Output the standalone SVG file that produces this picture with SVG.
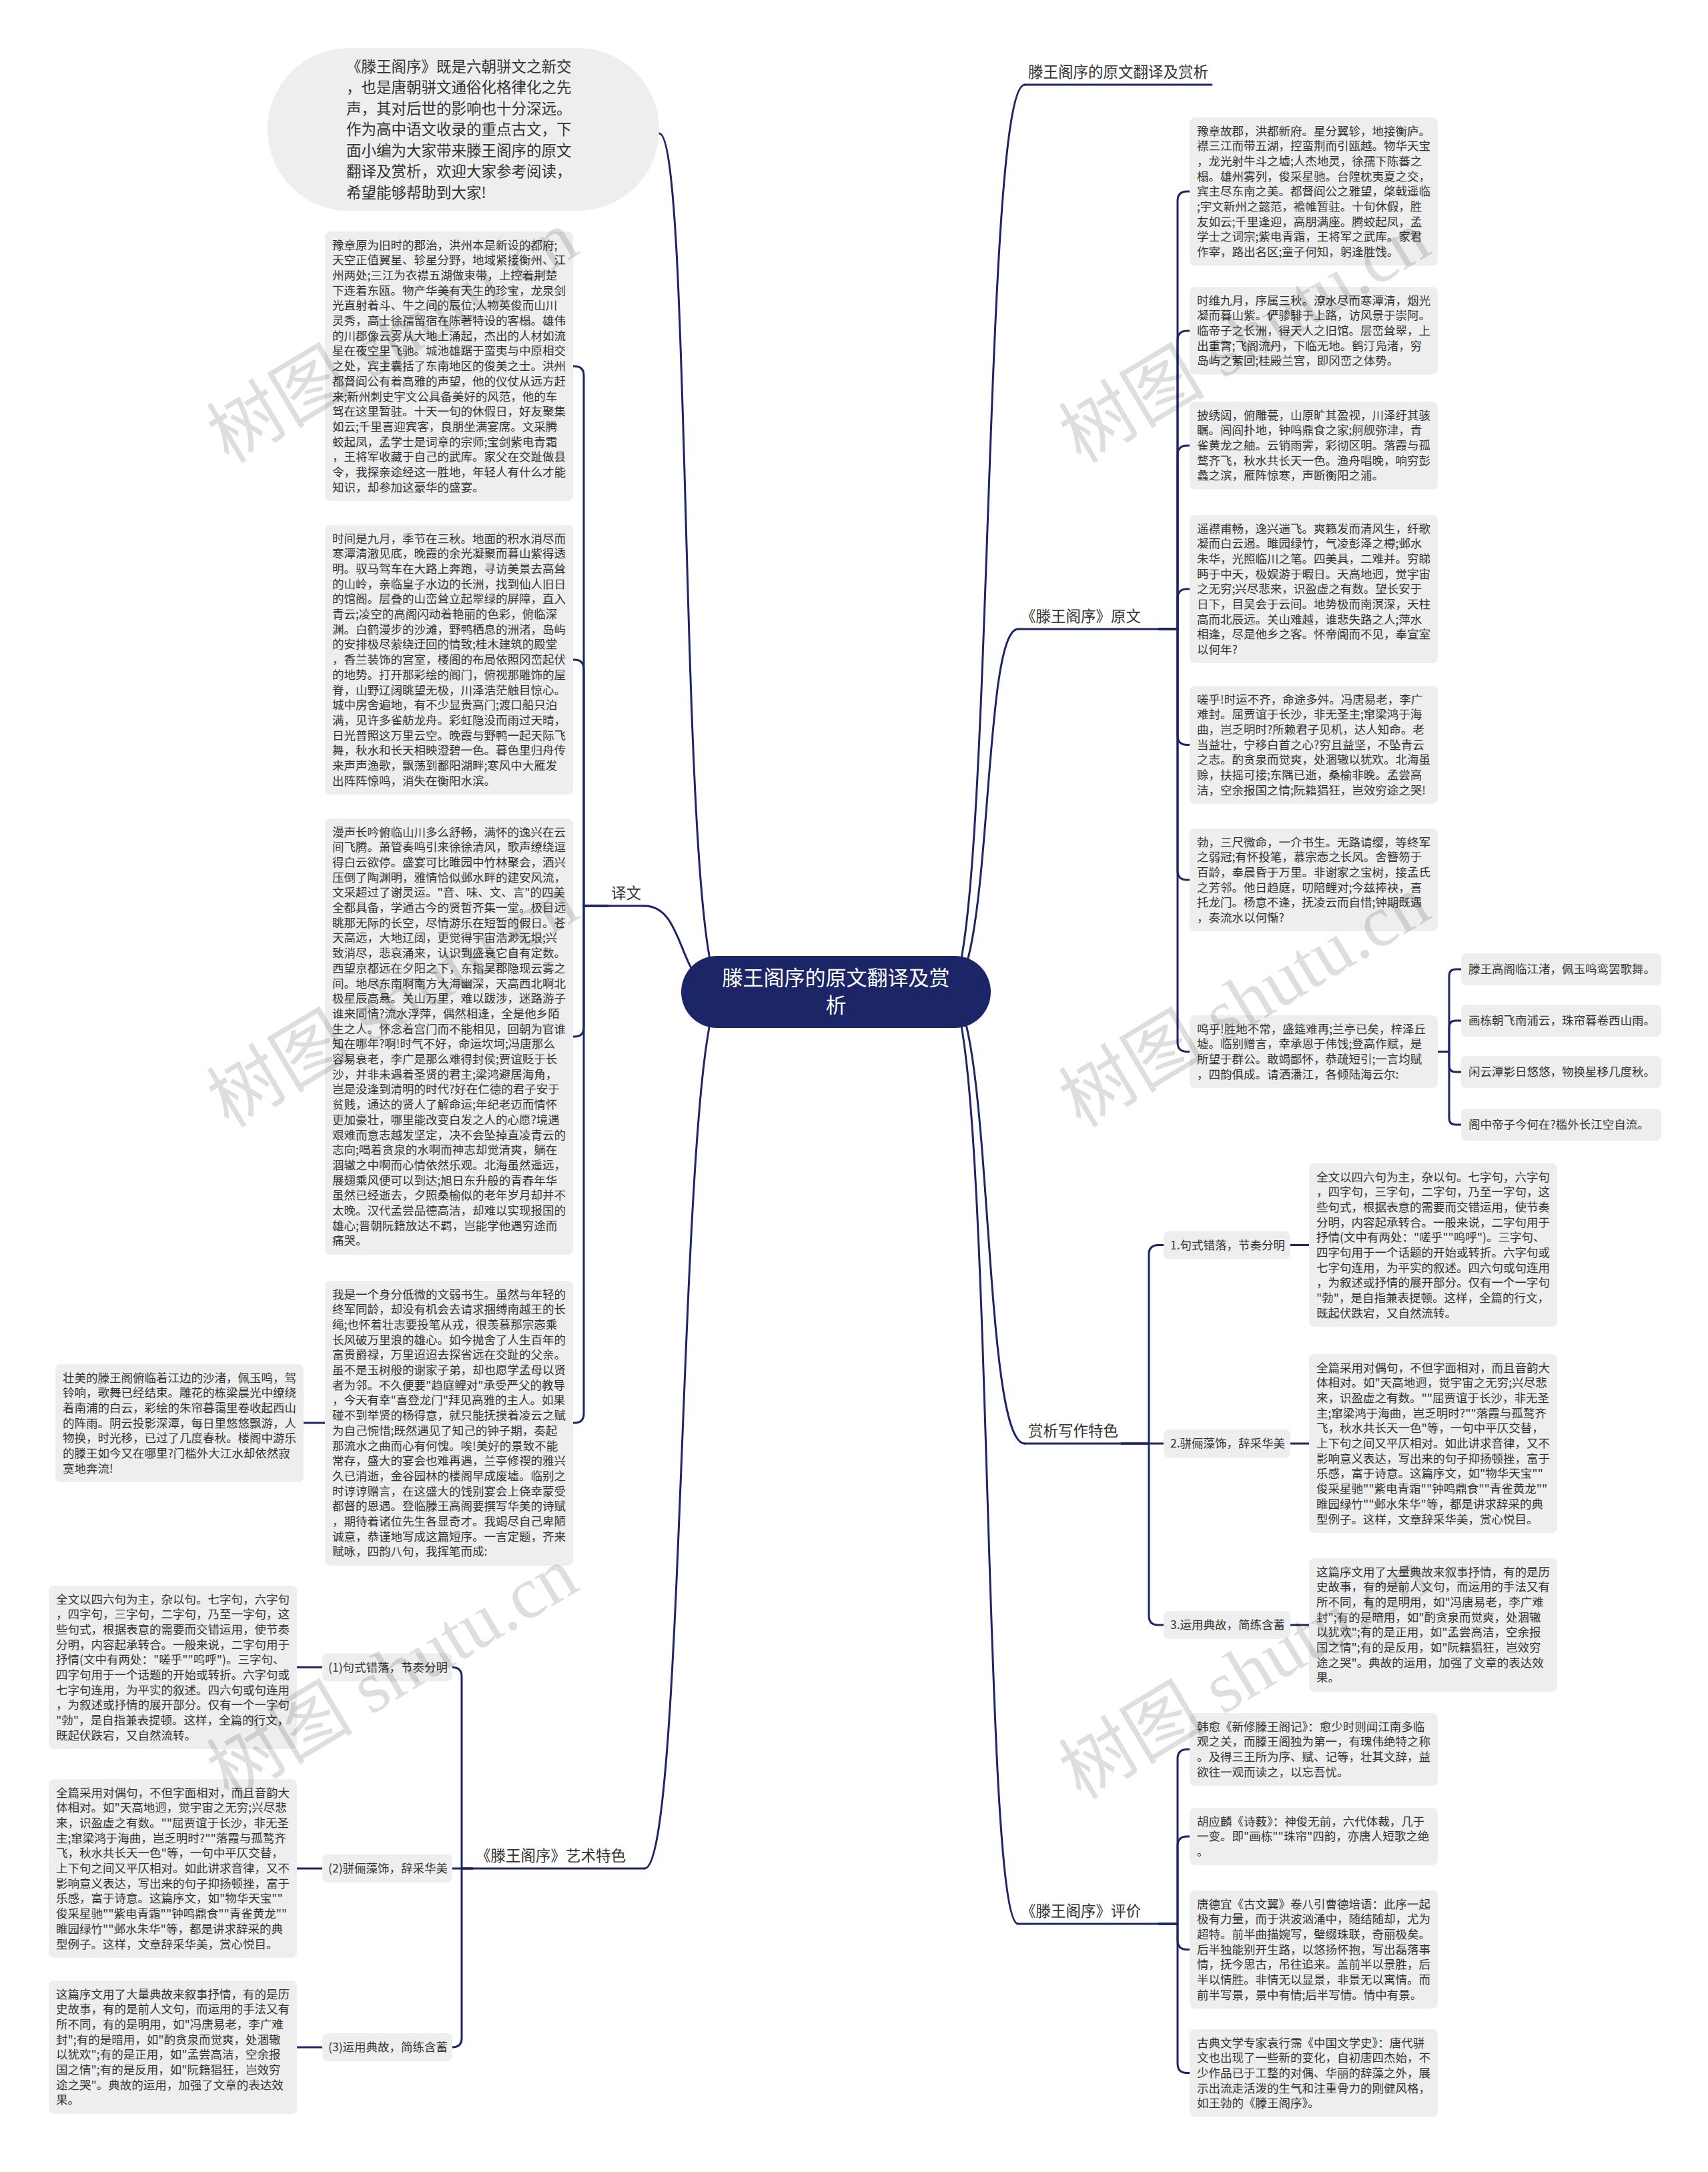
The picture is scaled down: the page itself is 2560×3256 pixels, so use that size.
<svg xmlns="http://www.w3.org/2000/svg" width="2560" height="3256" viewBox="0 0 2560 3256">
<style>
.bg{fill:#ffffff}
.box{fill:#eeeeee}
.t{font-family:'Noto Sans CJK SC','Noto Sans',sans-serif;font-size:17.5px;fill:#333333}
.lbl{font-family:'Noto Sans CJK SC','Noto Sans',sans-serif;font-size:22.5px;fill:#333333}
.intro{font-family:'Noto Sans CJK SC','Noto Sans',sans-serif;font-size:22.5px;fill:#333333}
.ctr{font-family:'Noto Sans CJK SC','Noto Sans',sans-serif;font-size:31px;fill:#ffffff}
.conn{fill:none;stroke:#1c2566;stroke-width:3;stroke-linecap:round;stroke-linejoin:round}
.ul{fill:none;stroke:#1c2566;stroke-width:3;stroke-linecap:round}
.wm{font-family:'Liberation Serif','Noto Sans CJK SC',serif;font-size:110px;fill:#000000;fill-opacity:0.13}
</style>
<rect class="bg" x="0" y="0" width="2560" height="3256"/>

<g id="connectors">
<path class="conn" d="M1420 1487 C1490 1487 1470 127 1536 127"/>
<path class="conn" d="M1420 1487 C1490 1487 1470 943 1526 943"/>
<path class="conn" d="M1420 1487 C1490 1487 1470 2164 1536 2164"/>
<path class="conn" d="M1420 1487 C1490 1487 1470 2884 1526 2884"/>
<path class="conn" d="M1085 1487 C1015 1487 1030 1358 966 1358"/>
<path class="conn" d="M1085 1487 C1015 1487 1030 2801 966 2801"/>
<path class="conn" d="M1085 1487 C1015 1487 1040 200 988 200"/>
<path class="conn" d="M1737 943 H1765 V301 Q1765 287 1779 287 H1783"/>
<path class="conn" d="M1737 943 H1765 V510 Q1765 496 1779 496 H1783"/>
<path class="conn" d="M1737 943 H1765 V682 Q1765 668 1779 668 H1783"/>
<path class="conn" d="M1737 943 H1765 V897 Q1765 883 1779 883 H1783"/>
<path class="conn" d="M1737 943 H1765 V1102.5 Q1765 1116.5 1779 1116.5 H1783"/>
<path class="conn" d="M1737 943 H1765 V1305 Q1765 1319 1779 1319 H1783"/>
<path class="conn" d="M1737 943 H1765 V1562.5 Q1765 1576.5 1779 1576.5 H1783"/>
<path class="conn" d="M2155 1576.5 H2172 V1463 Q2172 1453 2182 1453 H2190"/>
<path class="conn" d="M2155 1576.5 H2172 V1540 Q2172 1530 2182 1530 H2190"/>
<path class="conn" d="M2155 1576.5 H2172 V1597 Q2172 1607 2182 1607 H2190"/>
<path class="conn" d="M2155 1576.5 H2172 V1676 Q2172 1686 2182 1686 H2190"/>
<path class="conn" d="M1681 2164 H1722 V1880.5 Q1722 1866.5 1736 1866.5 H1744"/>
<path class="conn" d="M1681 2164 H1744"/>
<path class="conn" d="M1681 2164 H1722 V2422 Q1722 2436 1736 2436 H1744"/>
<path class="conn" d="M1934 1866.5 H1962"/>
<path class="conn" d="M1934 2164 H1962"/>
<path class="conn" d="M1934 2436 H1962"/>
<path class="conn" d="M1737 2884 H1765 V2636.5 Q1765 2622.5 1779 2622.5 H1783"/>
<path class="conn" d="M1737 2884 H1765 V2767 Q1765 2753 1779 2753 H1783"/>
<path class="conn" d="M1737 2884 H1765 V2908.5 Q1765 2922.5 1779 2922.5 H1783"/>
<path class="conn" d="M1737 2884 H1765 V3093.5 Q1765 3107.5 1779 3107.5 H1783"/>
<path class="conn" d="M911 1358 H875 V563 Q875 549 861 549 H859"/>
<path class="conn" d="M911 1358 H875 V1003 Q875 989 861 989 H859"/>
<path class="conn" d="M911 1358 H875 V1540 Q875 1554 861 1554 H859"/>
<path class="conn" d="M911 1358 H875 V2119 Q875 2133 861 2133 H859"/>
<path class="conn" d="M487 2133 H455"/>
<path class="conn" d="M708 2801 H692 V2513.5 Q692 2499.5 678 2499.5"/>
<path class="conn" d="M708 2801 H678"/>
<path class="conn" d="M708 2801 H692 V3055 Q692 3069 678 3069"/>
<path class="conn" d="M483 2499.5 H445"/>
<path class="conn" d="M483 2801 H445"/>
<path class="conn" d="M483 3069 H445"/>
</g>

<g id="center">
<rect x="1021" y="1433" width="464" height="108" rx="54" fill="#1c2566"/>
<text class="ctr" text-anchor="middle"><tspan x="1253" y="1477">滕王阁序的原文翻译及赏</tspan><tspan x="1253" y="1518">析</tspan></text>
</g>

<g id="intro">
<rect class="box" x="401" y="72" width="587" height="244" rx="122"/>
<text class="intro"><tspan x="519" y="107.5">《滕王阁序》既是六朝骈文之新交</tspan><tspan x="519" dy="31.5">，也是唐朝骈文通俗化格律化之先</tspan><tspan x="519" dy="31.5">声，其对后世的影响也十分深远。</tspan><tspan x="519" dy="31.5">作为高中语文收录的重点古文，下</tspan><tspan x="519" dy="31.5">面小编为大家带来滕王阁序的原文</tspan><tspan x="519" dy="31.5">翻译及赏析，欢迎大家参考阅读，</tspan><tspan x="519" dy="31.5">希望能够帮助到大家!</tspan></text>
</g>

<g id="label-title">
<text class="lbl" x="1541" y="116">滕王阁序的原文翻译及赏析</text>
<path class="ul" d="M1536 127 H1816"/>
</g>
<g id="label-yuanwen">
<text class="lbl" x="1530" y="932">《滕王阁序》原文</text>
<path class="ul" d="M1526 943 H1737"/>
</g>
<g id="label-shangxi">
<text class="lbl" x="1541" y="2153">赏析写作特色</text>
<path class="ul" d="M1536 2164 H1681"/>
</g>
<g id="label-pingjia">
<text class="lbl" x="1530" y="2873">《滕王阁序》评价</text>
<path class="ul" d="M1526 2884 H1737"/>
</g>
<g id="label-yiwen">
<text class="lbl" x="916" y="1347">译文</text>
<path class="ul" d="M911 1358 H966"/>
</g>
<g id="label-yishu">
<text class="lbl" x="713" y="2790">《滕王阁序》艺术特色</text>
<path class="ul" d="M708 2801 H966"/>
</g>

<g id="yiwen-1">
<rect class="box" x="487" y="347" width="372" height="404" rx="8"/>
<text class="t"><tspan x="498" y="373.5">豫章原为旧时的郡治，洪州本是新设的都府;</tspan><tspan x="498" dy="22.7">天空正值翼星、轸星分野，地域紧接衡州、江</tspan><tspan x="498" dy="22.7">州两处;三江为衣襟五湖做束带，上控着荆楚</tspan><tspan x="498" dy="22.7">下连着东瓯。物产华美有天生的珍宝，龙泉剑</tspan><tspan x="498" dy="22.7">光直射着斗、牛之间的辰位;人物英俊而山川</tspan><tspan x="498" dy="22.7">灵秀，高士徐孺留宿在陈著特设的客榻。雄伟</tspan><tspan x="498" dy="22.7">的川郡像云雾从大地上涌起，杰出的人材如流</tspan><tspan x="498" dy="22.7">星在夜空里飞驰。城池雄踞于蛮夷与中原相交</tspan><tspan x="498" dy="22.7">之处，宾主囊括了东南地区的俊美之士。洪州</tspan><tspan x="498" dy="22.7">都督阎公有着高雅的声望，他的仪仗从远方赶</tspan><tspan x="498" dy="22.7">来;新州刺史宇文公具备美好的风范，他的车</tspan><tspan x="498" dy="22.7">驾在这里暂驻。十天一旬的休假日，好友聚集</tspan><tspan x="498" dy="22.7">如云;千里喜迎宾客，良朋坐满宴席。文采腾</tspan><tspan x="498" dy="22.7">蛟起凤，孟学士是词章的宗师;宝剑紫电青霜</tspan><tspan x="498" dy="22.7">，王将军收藏于自己的武库。家父在交趾做县</tspan><tspan x="498" dy="22.7">令，我探亲途经这一胜地，年轻人有什么才能</tspan><tspan x="498" dy="22.7">知识，却参加这豪华的盛宴。</tspan></text>
</g>

<g id="yiwen-2">
<rect class="box" x="487" y="787" width="372" height="404" rx="8"/>
<text class="t"><tspan x="498" y="813.5">时间是九月，季节在三秋。地面的积水消尽而</tspan><tspan x="498" dy="22.7">寒潭清澈见底，晚霞的余光凝聚而暮山紫得透</tspan><tspan x="498" dy="22.7">明。驭马驾车在大路上奔跑，寻访美景去高耸</tspan><tspan x="498" dy="22.7">的山岭，亲临皇子水边的长洲，找到仙人旧日</tspan><tspan x="498" dy="22.7">的馆阁。层叠的山峦耸立起翠绿的屏障，直入</tspan><tspan x="498" dy="22.7">青云;凌空的高阁闪动着艳丽的色彩，俯临深</tspan><tspan x="498" dy="22.7">渊。白鹤漫步的沙滩，野鸭栖息的洲渚，岛屿</tspan><tspan x="498" dy="22.7">的安排极尽萦绕迂回的情致;桂木建筑的殿堂</tspan><tspan x="498" dy="22.7">，香兰装饰的宫室，楼阁的布局依照冈峦起伏</tspan><tspan x="498" dy="22.7">的地势。打开那彩绘的阁门，俯视那雕饰的屋</tspan><tspan x="498" dy="22.7">脊，山野辽阔眺望无极，川泽浩茫触目惊心。</tspan><tspan x="498" dy="22.7">城中房舍遍地，有不少显贵高门;渡口船只泊</tspan><tspan x="498" dy="22.7">满，见许多雀舫龙舟。彩虹隐没而雨过天晴，</tspan><tspan x="498" dy="22.7">日光普照这万里云空。晚霞与野鸭一起天际飞</tspan><tspan x="498" dy="22.7">舞，秋水和长天相映澄碧一色。暮色里归舟传</tspan><tspan x="498" dy="22.7">来声声渔歌，飘荡到鄱阳湖畔;寒风中大雁发</tspan><tspan x="498" dy="22.7">出阵阵惊鸣，消失在衡阳水滨。</tspan></text>
</g>

<g id="yiwen-3">
<rect class="box" x="487" y="1227" width="372" height="654" rx="8"/>
<text class="t"><tspan x="498" y="1253.5">漫声长吟俯临山川多么舒畅，满怀的逸兴在云</tspan><tspan x="498" dy="22.7">间飞腾。萧管奏鸣引来徐徐清风，歌声缭绕逗</tspan><tspan x="498" dy="22.7">得白云欲停。盛宴可比睢园中竹林聚会，酒兴</tspan><tspan x="498" dy="22.7">压倒了陶渊明，雅情恰似邺水畔的建安风流，</tspan><tspan x="498" dy="22.7">文采超过了谢灵运。"音、味、文、言"的四美</tspan><tspan x="498" dy="22.7">全都具备，学通古今的贤哲齐集一堂。极目远</tspan><tspan x="498" dy="22.7">眺那无际的长空，尽情游乐在短暂的假日。苍</tspan><tspan x="498" dy="22.7">天高远，大地辽阔，更觉得宇宙浩渺无垠;兴</tspan><tspan x="498" dy="22.7">致消尽，悲哀涌来，认识到盛衰它自有定数。</tspan><tspan x="498" dy="22.7">西望京都远在夕阳之下，东指吴郡隐现云雾之</tspan><tspan x="498" dy="22.7">间。地尽东南啊南方大海幽深，天高西北啊北</tspan><tspan x="498" dy="22.7">极星辰高悬。关山万里，难以跋涉，迷路游子</tspan><tspan x="498" dy="22.7">谁来同情?流水浮萍，偶然相逢，全是他乡陌</tspan><tspan x="498" dy="22.7">生之人。怀念着宫门而不能相见，回朝为官谁</tspan><tspan x="498" dy="22.7">知在哪年?啊!时气不好，命运坎坷;冯唐那么</tspan><tspan x="498" dy="22.7">容易衰老，李广是那么难得封侯;贾谊贬于长</tspan><tspan x="498" dy="22.7">沙，并非未遇着圣贤的君主;梁鸿避居海角，</tspan><tspan x="498" dy="22.7">岂是没逢到清明的时代?好在仁德的君子安于</tspan><tspan x="498" dy="22.7">贫贱，通达的贤人了解命运;年纪老迈而情怀</tspan><tspan x="498" dy="22.7">更加豪壮，哪里能改变白发之人的心愿?境遇</tspan><tspan x="498" dy="22.7">艰难而意志越发坚定，决不会坠掉直凌青云的</tspan><tspan x="498" dy="22.7">志向;喝着贪泉的水啊而神志却觉清爽，躺在</tspan><tspan x="498" dy="22.7">涸辙之中啊而心情依然乐观。北海虽然遥远，</tspan><tspan x="498" dy="22.7">展翅乘风便可以到达;旭日东升般的青春年华</tspan><tspan x="498" dy="22.7">虽然已经逝去，夕照桑榆似的老年岁月却并不</tspan><tspan x="498" dy="22.7">太晚。汉代孟尝品德高洁，却难以实现报国的</tspan><tspan x="498" dy="22.7">雄心;晋朝阮籍放达不羁，岂能学他遇穷途而</tspan><tspan x="498" dy="22.7">痛哭。</tspan></text>
</g>

<g id="yiwen-4">
<rect class="box" x="487" y="1920" width="372" height="427" rx="8"/>
<text class="t"><tspan x="498" y="1946.5">我是一个身分低微的文弱书生。虽然与年轻的</tspan><tspan x="498" dy="22.7">终军同龄，却没有机会去请求捆缚南越王的长</tspan><tspan x="498" dy="22.7">绳;也怀着壮志要投笔从戎，很羡慕那宗悫乘</tspan><tspan x="498" dy="22.7">长风破万里浪的雄心。如今抛舍了人生百年的</tspan><tspan x="498" dy="22.7">富贵爵禄，万里迢迢去探省远在交趾的父亲。</tspan><tspan x="498" dy="22.7">虽不是玉树般的谢家子弟，却也愿学孟母以贤</tspan><tspan x="498" dy="22.7">者为邻。不久便要"趋庭鲤对"承受严父的教导</tspan><tspan x="498" dy="22.7">，今天有幸"喜登龙门"拜见高雅的主人。如果</tspan><tspan x="498" dy="22.7">碰不到举贤的杨得意，就只能抚摸着凌云之赋</tspan><tspan x="498" dy="22.7">为自己惋惜;既然遇见了知己的钟子期，奏起</tspan><tspan x="498" dy="22.7">那流水之曲而心有何愧。唉!美好的景致不能</tspan><tspan x="498" dy="22.7">常存，盛大的宴会也难再遇，兰亭修禊的雅兴</tspan><tspan x="498" dy="22.7">久已消逝，金谷园林的楼阁早成废墟。临别之</tspan><tspan x="498" dy="22.7">时谆谆赠言，在这盛大的饯别宴会上侥幸蒙受</tspan><tspan x="498" dy="22.7">都督的恩遇。登临滕王高阁要撰写华美的诗赋</tspan><tspan x="498" dy="22.7">，期待着诸位先生各显奇才。我竭尽自己卑陋</tspan><tspan x="498" dy="22.7">诚意，恭谨地写成这篇短序。一言定题，齐来</tspan><tspan x="498" dy="22.7">赋咏，四韵八句，我挥笔而成:</tspan></text>
</g>

<g id="yiwen-5">
<rect class="box" x="83" y="2045" width="372" height="177" rx="8"/>
<text class="t"><tspan x="94" y="2071.5">壮美的滕王阁俯临着江边的沙渚，佩玉鸣，驾</tspan><tspan x="94" dy="22.7">铃响，歌舞已经结束。雕花的栋梁晨光中缭绕</tspan><tspan x="94" dy="22.7">着南浦的白云，彩绘的朱帘暮霭里卷收起西山</tspan><tspan x="94" dy="22.7">的阵雨。阴云投影深潭，每日里悠悠飘游，人</tspan><tspan x="94" dy="22.7">物换，时光移，已过了几度春秋。楼阁中游乐</tspan><tspan x="94" dy="22.7">的滕王如今又在哪里?门槛外大江水却依然寂</tspan><tspan x="94" dy="22.7">寞地奔流!</tspan></text>
</g>

<g id="yuanwen-1">
<rect class="box" x="1783" y="176" width="372" height="222" rx="8"/>
<text class="t"><tspan x="1794" y="202.5">豫章故郡，洪都新府。星分翼轸，地接衡庐。</tspan><tspan x="1794" dy="22.7">襟三江而带五湖，控蛮荆而引瓯越。物华天宝</tspan><tspan x="1794" dy="22.7">，龙光射牛斗之墟;人杰地灵，徐孺下陈蕃之</tspan><tspan x="1794" dy="22.7">榻。雄州雾列，俊采星驰。台隍枕夷夏之交，</tspan><tspan x="1794" dy="22.7">宾主尽东南之美。都督阎公之雅望，棨戟遥临</tspan><tspan x="1794" dy="22.7">;宇文新州之懿范，襜帷暂驻。十旬休假，胜</tspan><tspan x="1794" dy="22.7">友如云;千里逢迎，高朋满座。腾蛟起凤，孟</tspan><tspan x="1794" dy="22.7">学士之词宗;紫电青霜，王将军之武库。家君</tspan><tspan x="1794" dy="22.7">作宰，路出名区;童子何知，躬逢胜饯。</tspan></text>
</g>

<g id="yuanwen-2">
<rect class="box" x="1783" y="430" width="372" height="131.5" rx="8"/>
<text class="t"><tspan x="1794" y="456.5">时维九月，序属三秋。潦水尽而寒潭清，烟光</tspan><tspan x="1794" dy="22.7">凝而暮山紫。俨骖騑于上路，访风景于崇阿。</tspan><tspan x="1794" dy="22.7">临帝子之长洲，得天人之旧馆。层峦耸翠，上</tspan><tspan x="1794" dy="22.7">出重霄;飞阁流丹，下临无地。鹤汀凫渚，穷</tspan><tspan x="1794" dy="22.7">岛屿之萦回;桂殿兰宫，即冈峦之体势。</tspan></text>
</g>

<g id="yuanwen-3">
<rect class="box" x="1783" y="602" width="372" height="131.5" rx="8"/>
<text class="t"><tspan x="1794" y="628.5">披绣闼，俯雕甍，山原旷其盈视，川泽纡其骇</tspan><tspan x="1794" dy="22.7">瞩。闾阎扑地，钟鸣鼎食之家;舸舰弥津，青</tspan><tspan x="1794" dy="22.7">雀黄龙之舳。云销雨霁，彩彻区明。落霞与孤</tspan><tspan x="1794" dy="22.7">鹜齐飞，秋水共长天一色。渔舟唱晚，响穷彭</tspan><tspan x="1794" dy="22.7">蠡之滨，雁阵惊寒，声断衡阳之浦。</tspan></text>
</g>

<g id="yuanwen-4">
<rect class="box" x="1783" y="772" width="372" height="222" rx="8"/>
<text class="t"><tspan x="1794" y="798.5">遥襟甫畅，逸兴遄飞。爽籁发而清风生，纤歌</tspan><tspan x="1794" dy="22.7">凝而白云遏。睢园绿竹，气凌彭泽之樽;邺水</tspan><tspan x="1794" dy="22.7">朱华，光照临川之笔。四美具，二难并。穷睇</tspan><tspan x="1794" dy="22.7">眄于中天，极娱游于暇日。天高地迥，觉宇宙</tspan><tspan x="1794" dy="22.7">之无穷;兴尽悲来，识盈虚之有数。望长安于</tspan><tspan x="1794" dy="22.7">日下，目吴会于云间。地势极而南溟深，天柱</tspan><tspan x="1794" dy="22.7">高而北辰远。关山难越，谁悲失路之人;萍水</tspan><tspan x="1794" dy="22.7">相逢，尽是他乡之客。怀帝阍而不见，奉宣室</tspan><tspan x="1794" dy="22.7">以何年?</tspan></text>
</g>

<g id="yuanwen-5">
<rect class="box" x="1783" y="1028" width="372" height="177" rx="8"/>
<text class="t"><tspan x="1794" y="1054.5">嗟乎!时运不齐，命途多舛。冯唐易老，李广</tspan><tspan x="1794" dy="22.7">难封。屈贾谊于长沙，非无圣主;窜梁鸿于海</tspan><tspan x="1794" dy="22.7">曲，岂乏明时?所赖君子见机，达人知命。老</tspan><tspan x="1794" dy="22.7">当益壮，宁移白首之心?穷且益坚，不坠青云</tspan><tspan x="1794" dy="22.7">之志。酌贪泉而觉爽，处涸辙以犹欢。北海虽</tspan><tspan x="1794" dy="22.7">赊，扶摇可接;东隅已逝，桑榆非晚。孟尝高</tspan><tspan x="1794" dy="22.7">洁，空余报国之情;阮籍猖狂，岂效穷途之哭!</tspan></text>
</g>

<g id="yuanwen-6">
<rect class="box" x="1783" y="1242" width="372" height="154" rx="8"/>
<text class="t"><tspan x="1794" y="1268.5">勃，三尺微命，一介书生。无路请缨，等终军</tspan><tspan x="1794" dy="22.7">之弱冠;有怀投笔，慕宗悫之长风。舍簪笏于</tspan><tspan x="1794" dy="22.7">百龄，奉晨昏于万里。非谢家之宝树，接孟氏</tspan><tspan x="1794" dy="22.7">之芳邻。他日趋庭，叨陪鲤对;今兹捧袂，喜</tspan><tspan x="1794" dy="22.7">托龙门。杨意不逢，抚凌云而自惜;钟期既遇</tspan><tspan x="1794" dy="22.7">，奏流水以何惭?</tspan></text>
</g>

<g id="yuanwen-7">
<rect class="box" x="1783" y="1522" width="372" height="109" rx="8"/>
<text class="t"><tspan x="1794" y="1548.5">呜乎!胜地不常，盛筵难再;兰亭已矣，梓泽丘</tspan><tspan x="1794" dy="22.7">墟。临别赠言，幸承恩于伟饯;登高作赋，是</tspan><tspan x="1794" dy="22.7">所望于群公。敢竭鄙怀，恭疏短引;一言均赋</tspan><tspan x="1794" dy="22.7">，四韵俱成。请洒潘江，各倾陆海云尔:</tspan></text>
</g>

<g id="poem-1">
<rect class="box" x="2190" y="1429" width="300" height="48" rx="8"/>
<text class="t" x="2201" y="1459">滕王高阁临江渚，佩玉鸣鸾罢歌舞。</text>
</g>
<g id="poem-2">
<rect class="box" x="2190" y="1506" width="300" height="48" rx="8"/>
<text class="t" x="2201" y="1536">画栋朝飞南浦云，珠帘暮卷西山雨。</text>
</g>
<g id="poem-3">
<rect class="box" x="2190" y="1583" width="300" height="48" rx="8"/>
<text class="t" x="2201" y="1613">闲云潭影日悠悠，物换星移几度秋。</text>
</g>
<g id="poem-4">
<rect class="box" x="2190" y="1662" width="300" height="48" rx="8"/>
<text class="t" x="2201" y="1692">阁中帝子今何在?槛外长江空自流。</text>
</g>

<g id="shangxi-l1">
<rect class="box" x="1744" y="1845.5" width="190" height="42" rx="8"/>
<text class="t" x="1754" y="1872.5">1.句式错落，节奏分明</text>
</g>
<g id="shangxi-l2">
<rect class="box" x="1744" y="2143" width="190" height="42" rx="8"/>
<text class="t" x="1754" y="2170">2.骈俪藻饰，辞采华美</text>
</g>
<g id="shangxi-l3">
<rect class="box" x="1744" y="2415" width="190" height="42" rx="8"/>
<text class="t" x="1754" y="2442">3.运用典故，简练含蓄</text>
</g>

<g id="shangxi-1">
<rect class="box" x="1962" y="1744" width="372" height="245" rx="8"/>
<text class="t"><tspan x="1973" y="1770.5">全文以四六句为主，杂以句。七字句，六字句</tspan><tspan x="1973" dy="22.7">，四字句，三字句，二字句，乃至一字句，这</tspan><tspan x="1973" dy="22.7">些句式，根据表意的需要而交错运用，使节奏</tspan><tspan x="1973" dy="22.7">分明，内容起承转合。一般来说，二字句用于</tspan><tspan x="1973" dy="22.7">抒情(文中有两处："嗟乎""呜呼")。三字句、</tspan><tspan x="1973" dy="22.7">四字句用于一个话题的开始或转折。六字句或</tspan><tspan x="1973" dy="22.7">七字句连用，为平实的叙述。四六句或句连用</tspan><tspan x="1973" dy="22.7">，为叙述或抒情的展开部分。仅有一个一字句</tspan><tspan x="1973" dy="22.7">"勃"，是自指兼表提顿。这样，全篇的行文，</tspan><tspan x="1973" dy="22.7">既起伏跌宕，又自然流转。</tspan></text>
</g>

<g id="shangxi-2">
<rect class="box" x="1962" y="2030" width="372" height="268" rx="8"/>
<text class="t"><tspan x="1973" y="2056.5">全篇采用对偶句，不但字面相对，而且音韵大</tspan><tspan x="1973" dy="22.7">体相对。如"天高地迥，觉宇宙之无穷;兴尽悲</tspan><tspan x="1973" dy="22.7">来，识盈虚之有数。""屈贾谊于长沙，非无圣</tspan><tspan x="1973" dy="22.7">主;窜梁鸿于海曲，岂乏明时?""落霞与孤鹜齐</tspan><tspan x="1973" dy="22.7">飞，秋水共长天一色"等，一句中平仄交替，</tspan><tspan x="1973" dy="22.7">上下句之间又平仄相对。如此讲求音律，又不</tspan><tspan x="1973" dy="22.7">影响意义表达，写出来的句子抑扬顿挫，富于</tspan><tspan x="1973" dy="22.7">乐感，富于诗意。这篇序文，如"物华天宝""</tspan><tspan x="1973" dy="22.7">俊采星驰""紫电青霜""钟鸣鼎食""青雀黄龙""</tspan><tspan x="1973" dy="22.7">睢园绿竹""邺水朱华"等，都是讲求辞采的典</tspan><tspan x="1973" dy="22.7">型例子。这样，文章辞采华美，赏心悦目。</tspan></text>
</g>

<g id="shangxi-3">
<rect class="box" x="1962" y="2336" width="372" height="200" rx="8"/>
<text class="t"><tspan x="1973" y="2362.5">这篇序文用了大量典故来叙事抒情，有的是历</tspan><tspan x="1973" dy="22.7">史故事，有的是前人文句，而运用的手法又有</tspan><tspan x="1973" dy="22.7">所不同，有的是明用，如"冯唐易老，李广难</tspan><tspan x="1973" dy="22.7">封";有的是暗用，如"酌贪泉而觉爽，处涸辙</tspan><tspan x="1973" dy="22.7">以犹欢";有的是正用，如"孟尝高洁，空余报</tspan><tspan x="1973" dy="22.7">国之情";有的是反用，如"阮籍猖狂，岂效穷</tspan><tspan x="1973" dy="22.7">途之哭"。典故的运用，加强了文章的表达效</tspan><tspan x="1973" dy="22.7">果。</tspan></text>
</g>

<g id="pingjia-1">
<rect class="box" x="1783" y="2568" width="372" height="109" rx="8"/>
<text class="t"><tspan x="1794" y="2594.5">韩愈《新修滕王阁记》：愈少时则闻江南多临</tspan><tspan x="1794" dy="22.7">观之关，而滕王阁独为第一，有瑰伟绝特之称</tspan><tspan x="1794" dy="22.7">。及得三王所为序、赋、记等，壮其文辞，益</tspan><tspan x="1794" dy="22.7">欲往一观而读之，以忘吾忧。</tspan></text>
</g>

<g id="pingjia-2">
<rect class="box" x="1783" y="2710" width="372" height="86" rx="8"/>
<text class="t"><tspan x="1794" y="2736.5">胡应麟《诗薮》：神俊无前，六代体裁，几于</tspan><tspan x="1794" dy="22.7">一变。即"画栋""珠帘"四韵，亦唐人短歌之绝</tspan><tspan x="1794" dy="22.7">。</tspan></text>
</g>

<g id="pingjia-3">
<rect class="box" x="1783" y="2834" width="372" height="177" rx="8"/>
<text class="t"><tspan x="1794" y="2860.5">唐德宜《古文翼》卷八引曹德培语：此序一起</tspan><tspan x="1794" dy="22.7">极有力量，而于洪波汹涌中，随结随却，尤为</tspan><tspan x="1794" dy="22.7">超特。前半曲描婉写，璧缀珠联，奇丽极矣。</tspan><tspan x="1794" dy="22.7">后半独能别开生路，以悠扬怀抱，写出磊落事</tspan><tspan x="1794" dy="22.7">情，抚今思古，吊往追来。盖前半以景胜，后</tspan><tspan x="1794" dy="22.7">半以情胜。非情无以显景，非景无以寓情。而</tspan><tspan x="1794" dy="22.7">前半写景，景中有情;后半写情。情中有景。</tspan></text>
</g>

<g id="pingjia-4">
<rect class="box" x="1783" y="3042" width="372" height="131.5" rx="8"/>
<text class="t"><tspan x="1794" y="3068.5">古典文学专家袁行霈《中国文学史》：唐代骈</tspan><tspan x="1794" dy="22.7">文也出现了一些新的变化，自初唐四杰始，不</tspan><tspan x="1794" dy="22.7">少作品已于工整的对偶、华丽的辞藻之外，展</tspan><tspan x="1794" dy="22.7">示出流走活泼的生气和注重骨力的刚健风格，</tspan><tspan x="1794" dy="22.7">如王勃的《滕王阁序》。</tspan></text>
</g>

<g id="yishu-l1">
<rect class="box" x="483" y="2478.5" width="195" height="42" rx="8"/>
<text class="t" x="492" y="2505.5">(1)句式错落，节奏分明</text>
</g>
<g id="yishu-l2">
<rect class="box" x="483" y="2780" width="195" height="42" rx="8"/>
<text class="t" x="492" y="2807">(2)骈俪藻饰，辞采华美</text>
</g>
<g id="yishu-l3">
<rect class="box" x="483" y="3048" width="195" height="42" rx="8"/>
<text class="t" x="492" y="3075">(3)运用典故，简练含蓄</text>
</g>

<g id="yishu-1">
<rect class="box" x="73" y="2377" width="372" height="245" rx="8"/>
<text class="t"><tspan x="84" y="2403.5">全文以四六句为主，杂以句。七字句，六字句</tspan><tspan x="84" dy="22.7">，四字句，三字句，二字句，乃至一字句，这</tspan><tspan x="84" dy="22.7">些句式，根据表意的需要而交错运用，使节奏</tspan><tspan x="84" dy="22.7">分明，内容起承转合。一般来说，二字句用于</tspan><tspan x="84" dy="22.7">抒情(文中有两处："嗟乎""呜呼")。三字句、</tspan><tspan x="84" dy="22.7">四字句用于一个话题的开始或转折。六字句或</tspan><tspan x="84" dy="22.7">七字句连用，为平实的叙述。四六句或句连用</tspan><tspan x="84" dy="22.7">，为叙述或抒情的展开部分。仅有一个一字句</tspan><tspan x="84" dy="22.7">"勃"，是自指兼表提顿。这样，全篇的行文，</tspan><tspan x="84" dy="22.7">既起伏跌宕，又自然流转。</tspan></text>
</g>

<g id="yishu-2">
<rect class="box" x="73" y="2667" width="372" height="268" rx="8"/>
<text class="t"><tspan x="84" y="2693.5">全篇采用对偶句，不但字面相对，而且音韵大</tspan><tspan x="84" dy="22.7">体相对。如"天高地迥，觉宇宙之无穷;兴尽悲</tspan><tspan x="84" dy="22.7">来，识盈虚之有数。""屈贾谊于长沙，非无圣</tspan><tspan x="84" dy="22.7">主;窜梁鸿于海曲，岂乏明时?""落霞与孤鹜齐</tspan><tspan x="84" dy="22.7">飞，秋水共长天一色"等，一句中平仄交替，</tspan><tspan x="84" dy="22.7">上下句之间又平仄相对。如此讲求音律，又不</tspan><tspan x="84" dy="22.7">影响意义表达，写出来的句子抑扬顿挫，富于</tspan><tspan x="84" dy="22.7">乐感，富于诗意。这篇序文，如"物华天宝""</tspan><tspan x="84" dy="22.7">俊采星驰""紫电青霜""钟鸣鼎食""青雀黄龙""</tspan><tspan x="84" dy="22.7">睢园绿竹""邺水朱华"等，都是讲求辞采的典</tspan><tspan x="84" dy="22.7">型例子。这样，文章辞采华美，赏心悦目。</tspan></text>
</g>

<g id="yishu-3">
<rect class="box" x="73" y="2969" width="372" height="200" rx="8"/>
<text class="t"><tspan x="84" y="2995.5">这篇序文用了大量典故来叙事抒情，有的是历</tspan><tspan x="84" dy="22.7">史故事，有的是前人文句，而运用的手法又有</tspan><tspan x="84" dy="22.7">所不同，有的是明用，如"冯唐易老，李广难</tspan><tspan x="84" dy="22.7">封";有的是暗用，如"酌贪泉而觉爽，处涸辙</tspan><tspan x="84" dy="22.7">以犹欢";有的是正用，如"孟尝高洁，空余报</tspan><tspan x="84" dy="22.7">国之情";有的是反用，如"阮籍猖狂，岂效穷</tspan><tspan x="84" dy="22.7">途之哭"。典故的运用，加强了文章的表达效</tspan><tspan x="84" dy="22.7">果。</tspan></text>
</g>

<g id="watermarks">
<text class="wm" x="343" y="696" transform="rotate(-31 343 696)">树图 shutu.cn</text>
<text class="wm" x="1620" y="696" transform="rotate(-31 1620 696)">树图 shutu.cn</text>
<text class="wm" x="343" y="1692" transform="rotate(-31 343 1692)">树图 shutu.cn</text>
<text class="wm" x="1620" y="1692" transform="rotate(-31 1620 1692)">树图 shutu.cn</text>
<text class="wm" x="343" y="2699" transform="rotate(-31 343 2699)">树图 shutu.cn</text>
<text class="wm" x="1620" y="2699" transform="rotate(-31 1620 2699)">树图 shutu.cn</text>
</g>
</svg>
